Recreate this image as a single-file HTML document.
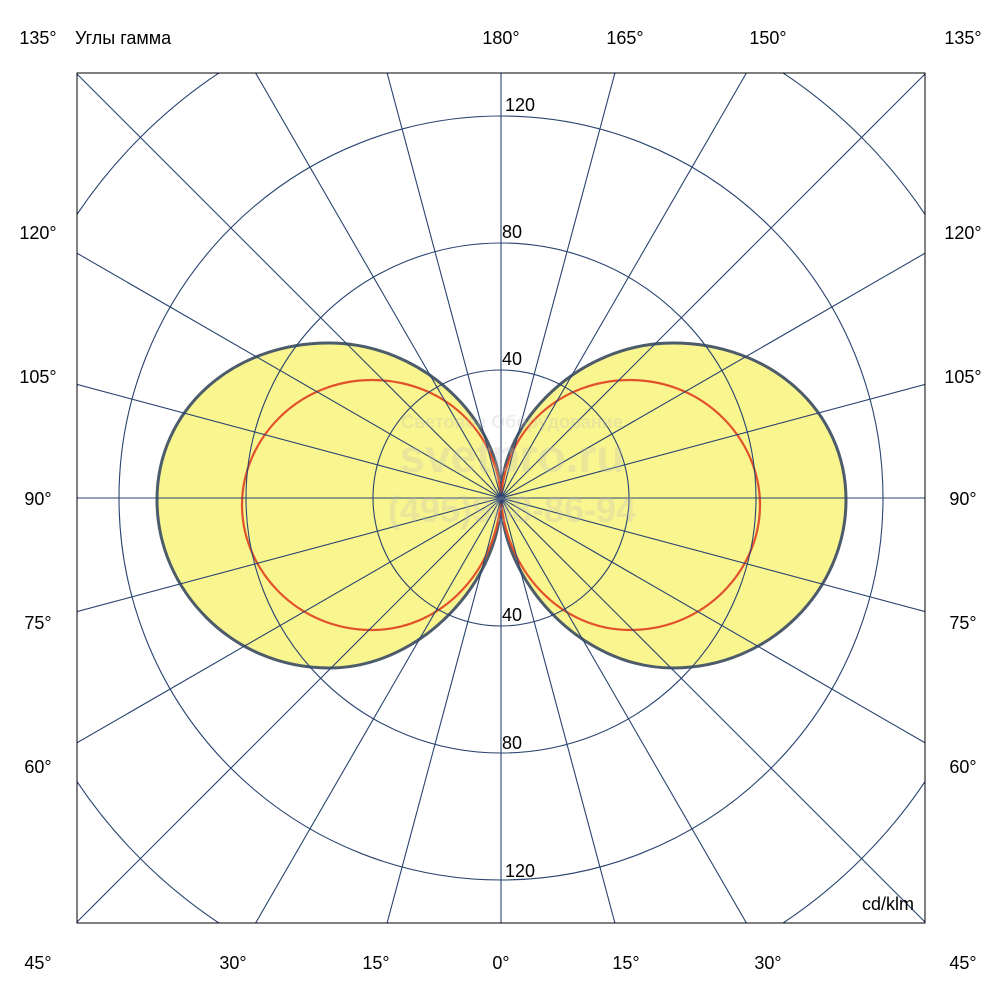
<!DOCTYPE html><html><head><meta charset="utf-8"><style>html,body{margin:0;background:#fff;width:1000px;height:1000px;overflow:hidden}svg{display:block}text{font-family:"Liberation Sans",sans-serif;font-size:18px;fill:#000}</style></head><body>
<svg width="1000" height="1000" viewBox="0 0 1000 1000" xmlns="http://www.w3.org/2000/svg" overflow="hidden">
<defs><clipPath id="c"><rect x="77" y="73" width="848" height="850"/></clipPath></defs>
<g fill="#f9f58f" stroke="none">
<path d="M501,498 C501,420 580,343 673,343 C770,343 846,410 846,500 C846,590 770,668 673,668 C580,668 501,580 501,498Z"/>
<path d="M501,498 C501,420 422,343 329,343 C232,343 157,410 157,500 C157,590 232,668 329,668 C422,668 501,580 501,498Z"/>
</g>
<g fill="none" stroke="#4d5c6b" stroke-width="3">
<path d="M501,498 C501,420 580,343 673,343 C770,343 846,410 846,500 C846,590 770,668 673,668 C580,668 501,580 501,498Z"/>
<path d="M501,498 C501,420 422,343 329,343 C232,343 157,410 157,500 C157,590 232,668 329,668 C422,668 501,580 501,498Z"/>
</g>
<g fill="none" stroke="#e2512b" stroke-width="2.2">
<path d="M501,498 C505,430 560,380 630,380 C705,380 760,440 760,505 C760,570 705,630 630,630 C560,630 505,570 501,498Z"/>
<path d="M501,498 C497,430 442,380 372,380 C297,380 242,440 242,505 C242,570 297,630 372,630 C442,630 497,570 501,498Z"/>
</g>
<g clip-path="url(#c)" stroke="#2a4470" stroke-width="1.1" fill="none">
<circle cx="501" cy="498" r="128"/><circle cx="501" cy="498" r="255"/><circle cx="501" cy="498" r="382"/><circle cx="501" cy="498" r="510"/>
<line x1="501" y1="73" x2="501" y2="923"/>
<line x1="387.1" y1="73" x2="614.9" y2="923"/>
<line x1="255.6" y1="73" x2="746.4" y2="923"/>
<line x1="77" y1="74" x2="925" y2="922"/>
<line x1="77" y1="253.2" x2="925" y2="742.8"/>
<line x1="77" y1="384.4" x2="925" y2="611.6"/>
<line x1="77" y1="498" x2="925" y2="498"/>
<line x1="77" y1="611.6" x2="925" y2="384.4"/>
<line x1="77" y1="742.8" x2="925" y2="253.2"/>
<line x1="77" y1="922" x2="925" y2="74"/>
<line x1="255.6" y1="923" x2="746.4" y2="73"/>
<line x1="387.1" y1="923" x2="614.9" y2="73"/>
</g>
<rect x="77" y="73" width="848" height="850" fill="none" stroke="#000" stroke-width="1"/>
<g opacity="0.25" font-weight="bold">
<text x="512" y="428" text-anchor="middle" style="font-size:18px;fill:#bbb">Световое Оборудование</text>
<text x="512" y="472" text-anchor="middle" style="font-size:46px;fill:#bbb;font-weight:bold">svetpro.ru</text>
<text x="512" y="522" text-anchor="middle" style="font-size:36px;fill:#bbb;font-weight:bold">(495)988-86-94</text>
</g>
<text x="38" y="44" text-anchor="middle">135°</text>
<text x="75" y="44">Углы гамма</text>
<text x="501" y="44" text-anchor="middle">180°</text>
<text x="625" y="44" text-anchor="middle">165°</text>
<text x="768" y="44" text-anchor="middle">150°</text>
<text x="963" y="44" text-anchor="middle">135°</text>
<g text-anchor="middle">
<text x="38" y="239">120°</text><text x="963" y="239">120°</text>
<text x="38" y="383">105°</text><text x="963" y="383">105°</text>
<text x="38" y="505">90°</text><text x="963" y="505">90°</text>
<text x="38" y="629">75°</text><text x="963" y="629">75°</text>
<text x="38" y="773">60°</text><text x="963" y="773">60°</text>
<text x="38" y="969">45°</text><text x="233" y="969">30°</text><text x="376" y="969">15°</text><text x="501" y="969">0°</text><text x="626" y="969">15°</text><text x="768" y="969">30°</text><text x="963" y="969">45°</text>
</g>
<text x="520" y="111" text-anchor="middle">120</text>
<text x="512" y="238" text-anchor="middle">80</text>
<text x="512" y="365" text-anchor="middle">40</text>
<text x="512" y="621" text-anchor="middle">40</text>
<text x="512" y="749" text-anchor="middle">80</text>
<text x="520" y="877" text-anchor="middle">120</text>
<text x="888" y="910" text-anchor="middle">cd/klm</text>
</svg></body></html>
